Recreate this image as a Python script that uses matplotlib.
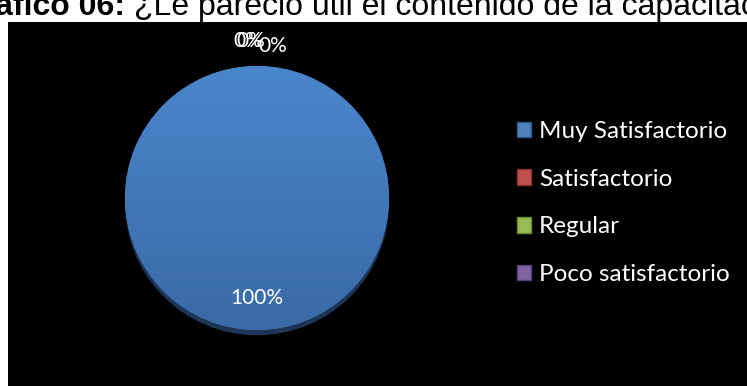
import numpy as np
import matplotlib.pyplot as plt
from matplotlib.patches import Rectangle, Patch, Circle
from matplotlib.colors import LinearSegmentedColormap

# Respuestas de la encuesta
categorias = ['Muy Satisfactorio', 'Satisfactorio', 'Regular', 'Poco satisfactorio']
valores = [100, 0, 0, 0]
colores = ['#4f81bd', '#c0504d', '#9bbb59', '#8064a2']
bordes = ['#2f5b8f', '#8c2f2c', '#6b8a34', '#56407a']

W, H = 747, 386
fig = plt.figure(figsize=(W / 100, H / 100), dpi=100)
fig.patch.set_facecolor('white')

def px(x, y):
    return x / W, 1 - y / H

# fondo negro del grafico
fig.patches.append(Rectangle(px(8, H), (W - 8) / W, (H - 22) / H,
                             transform=fig.transFigure, facecolor='black',
                             edgecolor='none', zorder=-5))

# titulo (recortado arriba)
tx, ty = px(125, 15)
fig.text(tx, ty, 'Gráfico 06:', fontsize=23, fontweight='bold',
         family='Liberation Sans', ha='right', va='baseline')
tx, ty = px(134, 15)
fig.text(tx, ty, '¿Le pareció útil el contenido de la capacitación?', fontsize=23,
         family='Liberation Sans', ha='left', va='baseline')

# pastel
cx, cy, r = 257, 198, 132
m = 1.05
ax = fig.add_axes([(cx - r * m) / W, (H - cy - r * m) / H, 2 * r * m / W, 2 * r * m / H])
ax.set_zorder(2)
ax.patch.set_visible(False)

# sombra inferior
ax.add_patch(Circle((0, -0.04), 1.0, facecolor='#1d3557', edgecolor='none', zorder=1))
wedges, _ = ax.pie(valores, colors=colores, startangle=90, counterclock=False,
                   radius=1.0, wedgeprops=dict(edgecolor='none', zorder=2))
# degradado vertical sobre la porcion azul
grad = np.linspace(1, 0, 256).reshape(-1, 1)
cmap = LinearSegmentedColormap.from_list('azul', ['#3a6aa7', '#4a86cc'])
im = ax.imshow(grad, extent=[-1, 1, -1, 1], cmap=cmap, origin='upper',
               aspect='auto', zorder=3)
im.set_clip_path(wedges[0])
ax.set_xlim(-m, m)
ax.set_ylim(-m, m)
ax.set_aspect('equal')
ax.axis('off')

# etiquetas de porcentaje
total = sum(valores)
ang0 = 90
nudges = [(0, 0), (-0.07, 0.04), (-0.05, 0.04), (0.12, 0)]
for i, v in enumerate(valores):
    ang = np.deg2rad(ang0 - 360 * v / total / 2)
    ang0 -= 360 * v / total
    d = 0.76 if v > 0 else 1.15
    x = d * np.cos(ang) + nudges[i][0]
    y = d * np.sin(ang) + nudges[i][1]
    ax.text(x, y, f'{v / total:.0%}', color='white', fontsize=15, family='Lato',
            ha='center', va='center', zorder=5, clip_on=False)

# leyenda
handles = [Patch(facecolor=c, edgecolor=b, linewidth=1) for c, b in zip(colores, bordes)]
leg = fig.legend(handles, categorias, loc='center left',
                 bbox_to_anchor=px(495, 203), frameon=False, labelcolor='white',
                 prop={'family': 'Lato', 'size': 17.5}, handlelength=0.6,
                 handleheight=0.6, handletextpad=0.3, labelspacing=1.1)

fig.savefig('out.png', dpi=100, facecolor='white')
